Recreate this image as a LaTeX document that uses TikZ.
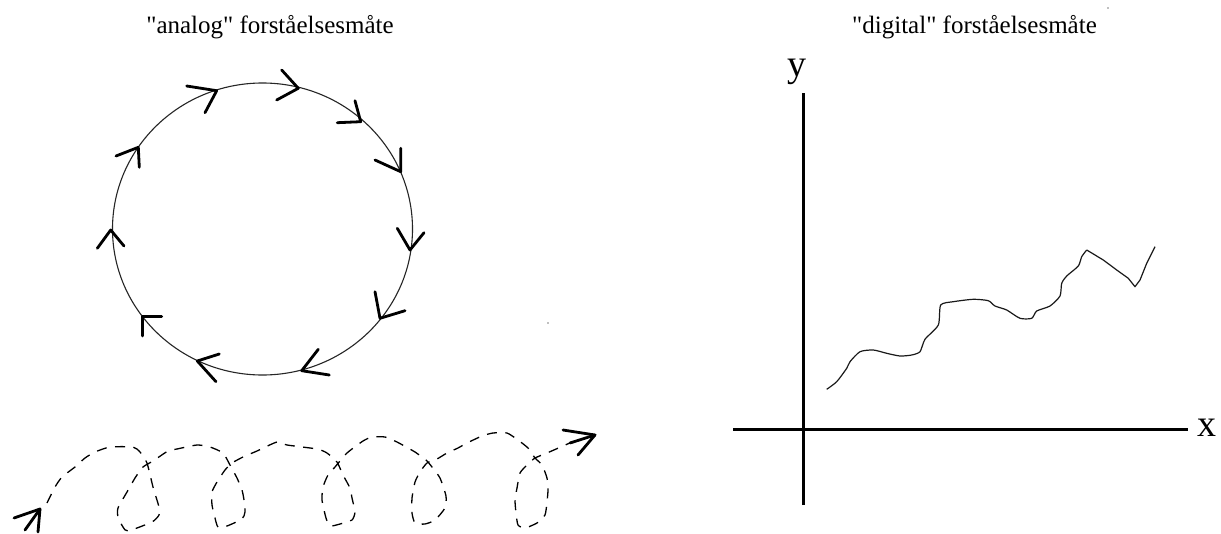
\documentclass[tikz,border=0pt]{standalone}
\usepackage{fontspec}
\setmainfont{Liberation Serif}[Ligatures=TeXOff]
\tikzset{
  circline/.style={draw=black!85, line width=1.1pt},
  headstroke/.style={draw=black, line width=2.8pt, line cap=round, line join=round},
  spiralline/.style={draw=black, line width=1.3pt, dash pattern=on 10pt off 8.5pt},
  axisline/.style={draw=black, line width=3pt},
  curveline/.style={draw=black!90, line width=1.2pt, line join=round},
  titletext/.style={font=\fontsize{25}{29}\selectfont, inner sep=0pt, anchor=base},
  axislabel/.style={font=\fontsize{38}{44}\selectfont, inner sep=0pt, anchor=base},
  speck/.style={fill=black!50}
}
\begin{document}
\begin{tikzpicture}[x=1pt,y=-1pt]
\useasboundingbox (0,0) rectangle (1221,533);
\fill[white] (0,0) rectangle (1221,533);

% titles
\node[titletext] (tleft) at (270,33) {"analog" forståelsesmåte};
\node[titletext] (tright) at (974.5,33) {"digital" forståelsesmåte};

% circle with clockwise arrowheads
\draw[circline] (262.5,229) ellipse [x radius=150pt, y radius=146pt];
\foreach \tx/\ty/\ax/\ay/\bx/\by in {
  216.7/90.7/186.7/86/205/112.7,
  298.3/88.3/281.7/70/276.7/100,
  360.7/121.7/355/100.7/337.3/122.7,
  400.7/171.7/400.7/148.3/375/160,
  410/250/397.3/228.3/424/232.7,
  380/318.3/375/291.7/405/310.7,
  301.7/370.7/318.3/349.3/329.3/375,
  197.3/361/219.3/354/216/381.7,
  142.7/316.7/161.7/316.7/142.7/336,
  110.7/230/97.3/248.3/124/246,
  138.3/147.3/116/156/139.3/167.3}
  {\draw[headstroke] (\ax,\ay) -- (\tx,\ty) -- (\bx,\by);}

% dashed looping spiral
\draw[spiralline] plot[smooth, tension=0.35] coordinates {
(47,503) (55,487) (62,477) (75,467) (85,458) (95,452) (110,447) (133,447) (140,452) (147,463)
(153,487) (159,507) (159,515) (152,522) (128,531) (123,527) (118,517) (118,508) (127,492) (135,478)
(143,467) (153,461) (168,451) (177,449) (197,445) (210,447) (223,453) (230,465) (237,478) (242,490)
(244,500) (245,512) (242,519) (227,526) (218,527) (215,518) (212,505) (212,492) (217,482) (225,470)
(232,463) (243,457) (257,451) (277,442) (287,445) (317,449) (327,453) (337,462) (343,475) (350,488)
(352,498) (355,512) (352,520) (340,524) (330,526) (326,518) (322,500) (323,487) (328,475) (335,467)
(347,453) (363,441) (372,437) (385,437) (397,442) (408,448) (415,452) (426,460) (432,467) (440,478)
(446,496) (445,508) (435,520) (425,524) (415,523) (412,513) (412,498) (415,482) (420,472) (427,463)
(437,459) (447,453) (458,448) (467,443) (482,436) (493,433) (507,433) (518,440) (528,448) (535,458)
(542,465) (547,478) (548,490) (547,502) (545,515) (537,523) (525,528) (518,525) (516,513) (515,500)
(517,488) (520,473) (527,465) (535,458) (547,453) (563,446) (572,442)};
% spiral arrowheads
\draw[headstroke] (25,530) -- (40,509);
\draw[headstroke] (14,518) -- (40,509) -- (38,532);
\draw[headstroke] (570,443) -- (595,435);
\draw[headstroke] (563,430) -- (595,435) -- (578,455);

% axes
\coordinate (ytop) at (803,93);
\coordinate (ybot) at (803,505);
\coordinate (xleft) at (733,429.3);
\coordinate (xright) at (1188,429.3);
\draw[axisline] (ybot) -- (ytop);
\draw[axisline] (xleft) -- (xright);
\node[axislabel] (ylab) at (797,76) {y};
\node[axislabel] (xlab) at (1206.7,436.5) {x};

% curve
\draw[curveline] plot[smooth, tension=0.4] coordinates {
(826.7,389.3) (836.7,381.7) (846.7,368.3) (850,361.7) (860,351.7) (873.3,350) (886.7,353.3)
(900,356) (911.7,355) (920,351.7) (925,339.3) (938.3,325) (940.7,305) (953.3,301.7) (973.3,299.3)
(988.3,300.7) (995,306) (1006.7,310) (1020,318.3) (1031.7,318.3) (1036.7,311) (1050,306) (1060,296)
(1061.7,283.3) (1066.7,276) (1078.3,266) (1081.7,256.7) (1086.7,250)};
\draw[curveline] (1086.7,250) -- (1103.3,260) -- (1116.7,270) -- (1128.3,278.3) -- (1135,286.7)
  -- (1140,280) -- (1146.7,263.3) -- (1155,246.7);

% specks
\fill[speck] (1108,8) circle (0.8pt);
\fill[speck] (548,323) circle (0.8pt);
\end{tikzpicture}
\end{document}
